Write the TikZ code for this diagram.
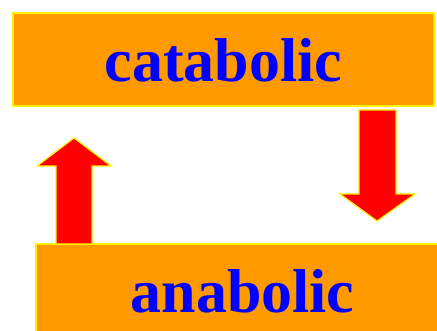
\documentclass[tikz,border=0pt]{standalone}
\usepackage{fontspec}
\setmainfont{Liberation Serif}
\definecolor{boxorange}{HTML}{FF9900}
\tikzset{
  stagebox/.style={draw=yellow, fill=boxorange, line width=1.5pt,
    minimum width=421pt, minimum height=93pt, inner sep=0pt,
    text height=44pt, text depth=0pt,
    text=blue, font=\fontsize{62}{62}\selectfont\bfseries},
  blockarrow/.style={draw=yellow, fill=red, line width=1.2pt, line join=miter}
}
\begin{document}
\begin{tikzpicture}[x=1pt, y=-1pt]
	\useasboundingbox (0,0) rectangle (437,331);
	\clip (0,0) rectangle (437,331);
	% boxes
	\node[stagebox] (cata) at (223.5,59.5) {catabolic};
	\node[stagebox, minimum width=413pt] (ana) at (242.5,290.5) {anabolic};
	% down arrow: catabolic -> anabolic
	\draw[blockarrow] (359,110) -- (396,110) -- (396,194) -- (415,194)
		-- (377,221) -- (340,194) -- (359,194) -- cycle;
	% up arrow: anabolic -> catabolic
	\draw[blockarrow] (56,243.5) -- (56,166) -- (37,166) -- (74,138)
		-- (111,166) -- (92,166) -- (92,243.5);
\end{tikzpicture}
\end{document}
